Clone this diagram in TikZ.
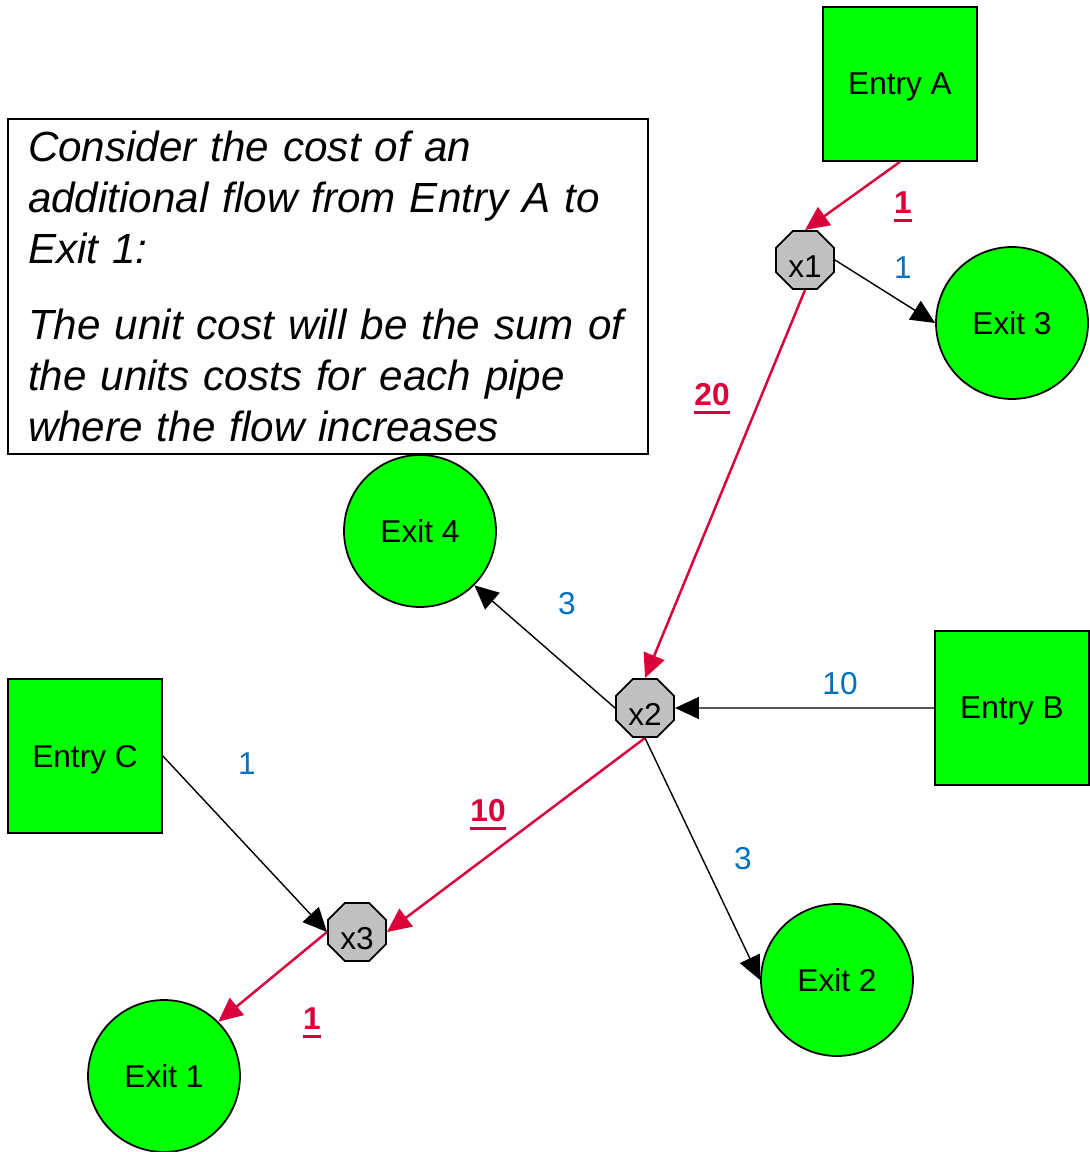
\documentclass[tikz,border=0pt]{standalone}
\usepackage{fontspec}
\setmainfont{Liberation Sans}
\usetikzlibrary{shapes.geometric,arrows.meta}

\definecolor{nodegreen}{RGB}{0,255,0}
\definecolor{pathred}{RGB}{218,0,58}
\definecolor{costblue}{RGB}{0,112,192}
\definecolor{hubgrey}{RGB}{192,192,192}

% bold, underlined cost on the pipes that carry the extra flow
\newcommand{\extracost}[1]{\setbox0\hbox{#1}\rlap{\rule[-5pt]{\wd0}{2pt}}\box0}

\begin{document}
\begin{tikzpicture}[x=0.02cm,y=-0.02cm,
  entry/.style={draw, line width=1pt, fill=nodegreen, minimum size=3.08cm, inner sep=0pt, text depth=0pt},
  exit/.style={circle, draw, line width=1pt, fill=nodegreen, minimum size=3.04cm, inner sep=0pt},
  hub/.style={regular polygon, regular polygon sides=8, draw, line width=1pt, fill=hubgrey, minimum size=1.26cm, inner sep=0pt, text height=20pt, text depth=0pt},
  pipe/.style={-{Triangle[length=0.48cm,width=0.44cm]}, line width=0.8pt},
  flow/.style={pipe, draw=pathred, line width=1.4pt},
  cost/.style={text=costblue},
  addcost/.style={text=pathred, font=\fontsize{18}{21}\selectfont\bfseries},
  every node/.append style={font=\fontsize{18}{21}\selectfont}]
\useasboundingbox (0,0) rectangle (1089,1152);

\node[draw, line width=0.8pt, minimum width=12.8cm, minimum height=6.7cm, text width=12cm, inner xsep=0.4cm, align=left,
  font=\fontsize{24}{28.9}\selectfont\itshape] (note) at (328,286.5)
  {Consider the cost of an\\additional flow from Entry A to\\Exit 1:\\[0.52cm]The unit cost will be the sum of\\the units costs for each pipe\\where the flow increases};

% entries
\node[entry] (entA) at (900,84) {Entry A};
\node[entry] (entB) at (1012,708) {Entry B};
\node[entry] (entC) at (85,756) {Entry C};

% junctions
\node[hub] (x1) at (805,260) {x1};
\node[hub] (x2) at (645,708) {x2};
\node[hub] (x3) at (357,932) {x3};

% exits
\node[exit] (ex1) at (164,1076) {Exit 1};
\node[exit] (ex2) at (837,980) {Exit 2};
\node[exit] (ex3) at (1012,323) {Exit 3};
\node[exit] (ex4) at (420,531) {Exit 4};

% pipes
\draw[flow] (entA.south) -- (x1.north);
\draw[pipe] (x1.east) -- (ex3.west);
\draw[flow] (x1.south) -- (x2.north);
\draw[pipe] (x2.west) -- (ex4.-45);
\draw[pipe] (entB.west) -- (x2.east);
\draw[flow] (x2.south) -- (x3.east);
\draw[pipe] (x2.south) -- (ex2.west);
\draw[pipe] (entC.east) -- (x3.west);
\draw[flow] (x3.west) -- (ex1.45);

% unit costs
\node[addcost] (cA1) at (903,207) {\extracost{1}};
\node[cost] (c13) at (903,268) {1};
\node[addcost] (c12) at (712,399) {\extracost{20}};
\node[cost] (c24) at (567,604) {3};
\node[cost] (cB2) at (840,684) {10};
\node[cost] (cC3) at (247,764) {1};
\node[addcost] (c23) at (488,815) {\extracost{10}};
\node[cost] (c22) at (743,859) {3};
\node[addcost] (c31) at (312,1023) {\extracost{1}};
\end{tikzpicture}
\end{document}
